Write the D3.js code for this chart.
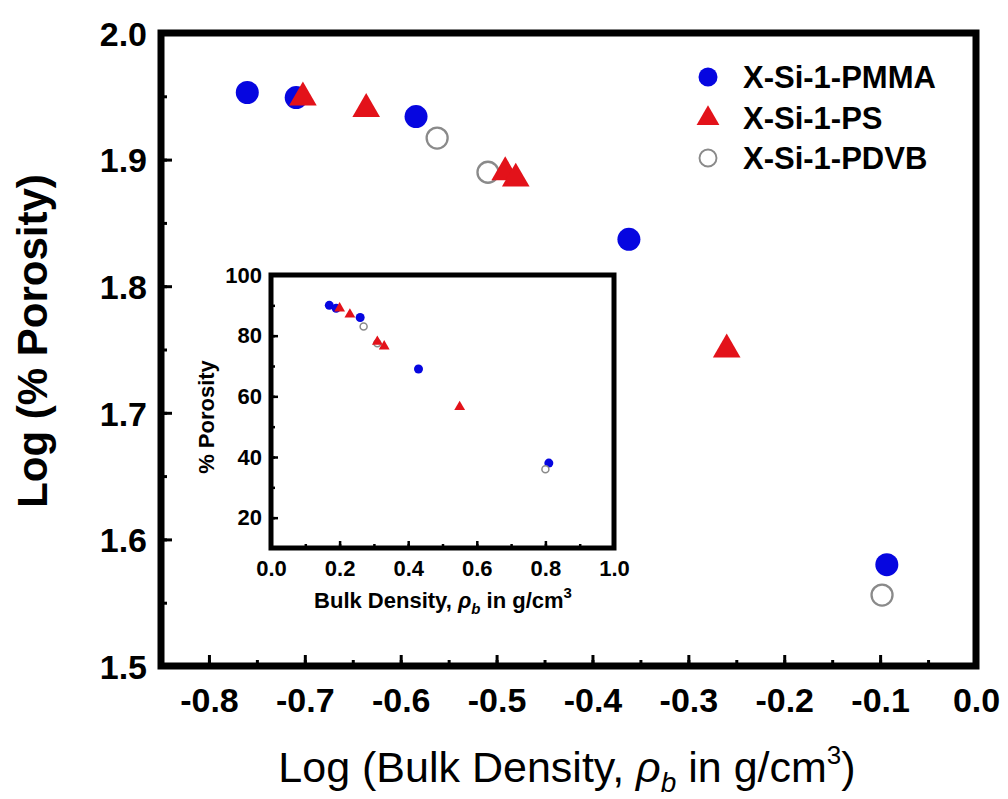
<!DOCTYPE html>
<html>
<head>
<meta charset="utf-8">
<script src="https://cdn.jsdelivr.net/npm/d3@7"></script>
<style>
  body { margin: 0; background: #fff; }
  text { font-family: "Liberation Sans", Arial, sans-serif; }
</style>
</head>
<body>
<div id="wrapper"></div>
<script>
// main plot: log-log values
const pmmaLogD = [-0.760, -0.709, -0.584, -0.362, -0.093];
const pmmaLogP = [1.953, 1.949, 1.934, 1.837, 1.580];
const psLogD = [-0.702, -0.636, -0.491, -0.480, -0.260];
const psLogP = [1.949, 1.940, 1.890, 1.885, 1.750];
const pdvbLogD = [-0.562, -0.509, -0.098];
const pdvbLogP = [1.917, 1.890, 1.556];

// inset: linear values
const pmmaD = [0.17, 0.19, 0.26, 0.43, 0.81];
const pmmaP = [90, 89, 86, 69, 38];
const psD = [0.20, 0.23, 0.31, 0.33, 0.55];
const psP = [89, 87, 78, 76.5, 56.5];
const pdvbD = [0.27, 0.31, 0.80];
const pdvbP = [83, 77.5, 36];

const seriesNames = ["X-Si-1-PMMA", "X-Si-1-PS", "X-Si-1-PDVB"];
const xTicks = [-0.8, -0.7, -0.6, -0.5, -0.4, -0.3, -0.2, -0.1, 0.0];
const yTicks = [1.5, 1.6, 1.7, 1.8, 1.9, 2.0];
const insetXTicks = [0.0, 0.2, 0.4, 0.6, 0.8, 1.0];
const insetYTicks = [20, 40, 60, 80, 100];

const blue = "#0606e0", red = "#e3121a", grey = "#8a8a8a";

var svg = d3.select("#wrapper").append("svg")
    .attr("width", 1008)
    .attr("height", 799)

var m = {left: 161, right: 976, top: 33, bottom: 666}

var x = d3.scaleLinear().domain([-0.85, 0.0]).range([m.left, m.right])
var y = d3.scaleLinear().domain([1.5, 2.0]).range([m.bottom, m.top])

function minor(lo, hi, step) {
    return d3.range(Math.round((hi - lo) / step) + 1).map(i => +(lo + i * step).toFixed(3))
}

// minor ticks
svg.append("g")
    .attr("transform", `translate(0,${m.bottom})`)
    .call(d3.axisBottom(x).tickValues(minor(-0.85, 0, 0.05)).tickSize(-6).tickFormat(""))
svg.append("g")
    .attr("transform", `translate(${m.left},0)`)
    .call(d3.axisLeft(y).tickValues(minor(1.5, 2.0, 0.05)).tickSize(-6).tickFormat(""))

var xAxis = svg.append("g")
    .attr("transform", `translate(0,${m.bottom})`)
    .call(d3.axisBottom(x).tickValues(xTicks).tickSize(-11).tickPadding(22).tickFormat(d3.format(".1f")))
var yAxis = svg.append("g")
    .attr("transform", `translate(${m.left},0)`)
    .call(d3.axisLeft(y).tickValues(yTicks).tickSize(-11).tickPadding(14).tickFormat(d3.format(".1f")))

svg.selectAll(".domain").remove()
svg.selectAll(".tick line").attr("stroke", "#000").attr("stroke-width", 3)
svg.selectAll(".tick text")
    .attr("fill", "#000")
    .style("font-size", "34px")
    .style("font-weight", "bold")
xAxis.selectAll(".tick text").text(d => d3.format(".1f")(d).replace("−", "-"))
yAxis.selectAll(".tick text").attr("dy", "0.36em")

svg.append("rect")
    .attr("x", m.left).attr("y", m.top)
    .attr("width", m.right - m.left).attr("height", m.bottom - m.top)
    .attr("fill", "none").attr("stroke", "#000").attr("stroke-width", 7)

// titles
svg.append("text")
    .attr("x", 567).attr("y", 782)
    .attr("text-anchor", "middle")
    .style("font-size", "43px")
    .call(t => {
        t.append("tspan").text("Log (Bulk Density, ")
        t.append("tspan").text("ρ").style("font-style", "italic")
        t.append("tspan").text("b").attr("dy", 10).style("font-size", "28px").style("font-style", "italic")
        t.append("tspan").text(" in g/cm").attr("dy", -10)
        t.append("tspan").text("3").attr("dy", -18).style("font-size", "26px")
        t.append("tspan").text(")").attr("dy", 18)
    })

svg.append("text")
    .attr("transform", "translate(47,341) rotate(-90)")
    .attr("text-anchor", "middle")
    .style("font-size", "42px")
    .style("font-weight", "bold")
    .text("Log (% Porosity)")

// markers
function drawSeries(g, xs, ys, sx, sy, kind, size) {
    var pts = xs.map((d, i) => ({x: d, y: ys[i]}))
    if (kind == "tri") {
        g.selectAll(null).data(pts).enter().append("path")
            .attr("d", d3.symbol().type(d3.symbolTriangle).size(size * size * 2.5))
            .attr("transform", d => `translate(${sx(d.x)},${sy(d.y)})`)
            .attr("fill", red)
    } else {
        g.selectAll(null).data(pts).enter().append("circle")
            .attr("cx", d => sx(d.x)).attr("cy", d => sy(d.y))
            .attr("r", kind == "open" ? size - 1 : size)
            .attr("fill", kind == "open" ? "#fff" : blue)
            .attr("stroke", kind == "open" ? grey : "none")
            .attr("stroke-width", kind == "open" ? Math.max(1.5, size / 5) : 0)
    }
}

var marks = svg.append("g")
drawSeries(marks, pmmaLogD, pmmaLogP, x, y, "filled", 11.5)
drawSeries(marks, pdvbLogD, pdvbLogP, x, y, "open", 11.5)
drawSeries(marks, psLogD, psLogP, x, y, "tri", 11.5)

// legend
var legend = svg.append("g")
var kinds = ["filled", "tri", "open"]
seriesNames.forEach((name, i) => {
    var ly = 77 + i * 40.5
    var g = legend.append("g")
    drawSeries(g, [0], [0], () => 708, () => ly + (kinds[i] == "tri" ? 1 : 0), kinds[i], 9.5)
    g.append("text")
        .attr("x", 743).attr("y", ly + 11)
        .style("font-size", "31px")
        .style("font-weight", "bold")
        .text(name)
})

// inset
var im = {left: 271, right: 614, top: 275, bottom: 548}
var ix = d3.scaleLinear().domain([0, 1.0]).range([im.left, im.right])
var iy = d3.scaleLinear().domain([10, 100]).range([im.bottom, im.top])

var inset = svg.append("g")
inset.append("rect")
    .attr("x", im.left).attr("y", im.top)
    .attr("width", im.right - im.left).attr("height", im.bottom - im.top)
    .attr("fill", "#fff")

inset.append("g")
    .attr("transform", `translate(0,${im.bottom})`)
    .call(d3.axisBottom(ix).tickValues(minor(0, 1, 0.1)).tickSize(-4).tickFormat(""))
inset.append("g")
    .attr("transform", `translate(${im.left},0)`)
    .call(d3.axisLeft(iy).tickValues(minor(10, 100, 10)).tickSize(-4).tickFormat(""))
inset.append("g")
    .attr("transform", `translate(0,${im.bottom})`)
    .call(d3.axisBottom(ix).tickValues(insetXTicks).tickSize(-7).tickPadding(12).tickFormat(d3.format(".1f")))
inset.append("g")
    .attr("transform", `translate(${im.left},0)`)
    .call(d3.axisLeft(iy).tickValues(insetYTicks).tickSize(-7).tickPadding(9).tickFormat(d3.format("d")))

inset.selectAll(".domain").remove()
inset.selectAll(".tick line").attr("stroke", "#000").attr("stroke-width", 2.5)
inset.selectAll(".tick text")
    .attr("fill", "#000")
    .style("font-size", "22px")
    .style("font-weight", "bold")

inset.append("rect")
    .attr("x", im.left).attr("y", im.top)
    .attr("width", im.right - im.left).attr("height", im.bottom - im.top)
    .attr("fill", "none").attr("stroke", "#000").attr("stroke-width", 5)

var imarks = inset.append("g")
drawSeries(imarks, pmmaD, pmmaP, ix, iy, "filled", 4.5)
drawSeries(imarks, pdvbD, pdvbP, ix, iy, "open", 4.5)
drawSeries(imarks, psD, psP, ix, iy, "tri", 4.5)

inset.append("text")
    .attr("x", 443).attr("y", 608)
    .attr("text-anchor", "middle")
    .style("font-size", "22px")
    .style("font-weight", "bold")
    .call(t => {
        t.append("tspan").text("Bulk Density, ")
        t.append("tspan").text("ρ").style("font-style", "italic")
        t.append("tspan").text("b").attr("dy", 6).style("font-size", "15px").style("font-style", "italic")
        t.append("tspan").text(" in g/cm").attr("dy", -6)
        t.append("tspan").text("3").attr("dy", -10).style("font-size", "15px")
    })

inset.append("text")
    .attr("transform", "translate(214,417) rotate(-90)")
    .attr("text-anchor", "middle")
    .style("font-size", "22px")
    .style("font-weight", "bold")
    .text("% Porosity")
</script>
</body>
</html>
